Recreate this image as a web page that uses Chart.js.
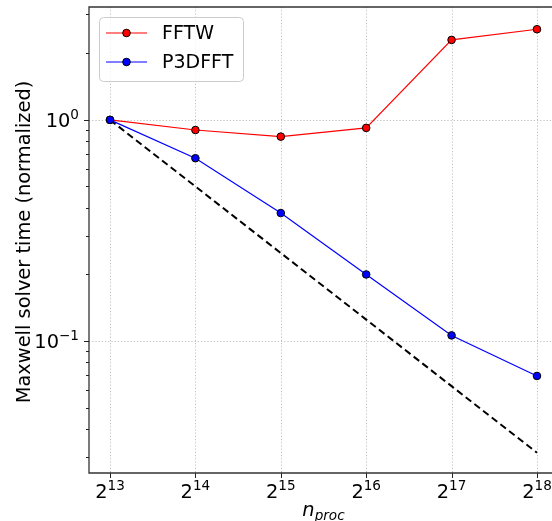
<html>
<body style="margin:0;background:#fff">
<canvas id="myChart" width="552" height="521"></canvas>
<script src="https://cdn.jsdelivr.net/npm/chart.js@4/dist/chart.umd.min.js"></script>
<script>
// n_proc = 2^exponent
const exponents = [13, 14, 15, 16, 17, 18];
const fftw = [1.0, 0.90, 0.84, 0.92, 2.30, 2.57];
const p3dfft = [1.0, 0.671, 0.379, 0.200, 0.106, 0.0695];
const ideal = [1.0, 0.5, 0.25, 0.125, 0.0625, 0.03125];

const yMajor = [1, 0.1];
const yMajorLabels = [["10", "0"], ["10", "\u22121"]];
const yMinor = [0.03, 0.04, 0.05, 0.06, 0.07, 0.08, 0.09, 0.2, 0.3, 0.4, 0.5, 0.6, 0.7, 0.8, 0.9, 2, 3];

const FONT = '"DejaVu Sans"';
const FS = 19.4;
const pts = arr => exponents.map((e, i) => ({x: e, y: arr[i]}));

function supText(ctx, base, sup, x, y, align, size) {
    ctx.textAlign = 'left';
    ctx.textBaseline = 'alphabetic';
    ctx.font = size + 'px ' + FONT;
    const wb = ctx.measureText(base).width;
    ctx.font = (size * 0.7) + 'px ' + FONT;
    const ws = ctx.measureText(sup).width;
    const x0 = align === 'center' ? x - (wb + ws) / 2 : x - wb - ws;
    ctx.font = size + 'px ' + FONT;
    ctx.fillText(base, x0, y);
    ctx.font = (size * 0.7) + 'px ' + FONT;
    ctx.fillText(sup, x0 + wb, y - size * 0.4);
}

const axesPlugin = {
    id: 'axesPlugin',
    beforeDatasetsDraw(chart) {
        const {ctx, chartArea: a, scales: {x, y}} = chart;
        ctx.save();
        ctx.strokeStyle = '#b0b0b0';
        ctx.lineWidth = 0.8;
        ctx.setLineDash([1.2, 2]);
        exponents.forEach(e => {
            const px = Math.round(x.getPixelForValue(e)) + 0.5;
            ctx.beginPath(); ctx.moveTo(px, a.top); ctx.lineTo(px, a.bottom); ctx.stroke();
        });
        yMajor.forEach(v => {
            const py = Math.round(y.getPixelForValue(v)) + 0.5;
            ctx.beginPath(); ctx.moveTo(a.left, py); ctx.lineTo(a.right, py); ctx.stroke();
        });
        ctx.restore();
    },
    afterDatasetsDraw(chart) {
        const {ctx, chartArea: a, scales: {x, y}} = chart;
        ctx.save();
        ctx.setLineDash([]);
        ctx.strokeStyle = '#333';
        ctx.lineWidth = 1.3;
        // spines (right one falls outside the picture)
        ctx.beginPath();
        ctx.moveTo(a.right, a.top); ctx.lineTo(a.left, a.top);
        ctx.lineTo(a.left, a.bottom); ctx.lineTo(a.right, a.bottom);
        ctx.stroke();
        // ticks
        ctx.lineWidth = 1;
        ctx.strokeStyle = '#222';
        exponents.forEach(e => {
            const px = Math.round(x.getPixelForValue(e)) + 0.5;
            ctx.beginPath(); ctx.moveTo(px, a.bottom); ctx.lineTo(px, a.bottom + 5); ctx.stroke();
        });
        yMajor.forEach(v => {
            const py = Math.round(y.getPixelForValue(v)) + 0.5;
            ctx.beginPath(); ctx.moveTo(a.left, py); ctx.lineTo(a.left - 5, py); ctx.stroke();
        });
        yMinor.forEach(v => {
            const py = Math.round(y.getPixelForValue(v)) + 0.5;
            ctx.beginPath(); ctx.moveTo(a.left, py); ctx.lineTo(a.left - 3, py); ctx.stroke();
        });
        // tick labels
        ctx.fillStyle = '#000';
        exponents.forEach(e => {
            supText(ctx, '2', String(e), x.getPixelForValue(e), a.bottom + 25, 'center', FS);
        });
        yMajor.forEach((v, i) => {
            supText(ctx, yMajorLabels[i][0], yMajorLabels[i][1], a.left - 10, y.getPixelForValue(v) + 7, 'right', FS);
        });
        // axis titles
        ctx.save();
        ctx.translate(30, (a.top + a.bottom) / 2 + 2);
        ctx.rotate(-Math.PI / 2);
        ctx.font = FS + 'px ' + FONT;
        ctx.textAlign = 'center';
        ctx.textBaseline = 'alphabetic';
        ctx.fillText('Maxwell solver time (normalized)', 0, 0);
        ctx.restore();

        ctx.font = 'italic ' + FS + 'px ' + FONT;
        const wn = ctx.measureText('n').width;
        ctx.font = 'italic ' + (FS * 0.7) + 'px ' + FONT;
        const wp = ctx.measureText('proc').width;
        const cx = 323.5 - (wn + wp) / 2;
        ctx.textAlign = 'left';
        ctx.font = 'italic ' + FS + 'px ' + FONT;
        ctx.fillText('n', cx, 516);
        ctx.font = 'italic ' + (FS * 0.7) + 'px ' + FONT;
        ctx.fillText('proc', cx + wn, 520);

        // legend
        const lx = 99, ly = 17, lw = 144, lh = 64;
        ctx.beginPath();
        ctx.roundRect(lx + 0.5, ly + 0.5, lw, lh, 4);
        ctx.fillStyle = 'rgba(255,255,255,0.8)';
        ctx.fill();
        ctx.strokeStyle = '#cccccc';
        ctx.lineWidth = 1;
        ctx.stroke();
        const items = [['FFTW', 'red', 33], ['P3DFFT', 'blue', 62]];
        items.forEach(([label, color, yy]) => {
            ctx.strokeStyle = color;
            ctx.lineWidth = 1.2;
            ctx.beginPath(); ctx.moveTo(106, yy); ctx.lineTo(147, yy); ctx.stroke();
            ctx.beginPath(); ctx.arc(126.5, yy, 3.8, 0, Math.PI * 2);
            ctx.fillStyle = color; ctx.fill();
            ctx.strokeStyle = '#000'; ctx.lineWidth = 1; ctx.stroke();
            ctx.fillStyle = '#000';
            ctx.font = '19px ' + FONT;
            ctx.textAlign = 'left';
            ctx.textBaseline = 'middle';
            ctx.fillText(label, 162, yy + 1);
        });
        ctx.restore();
    }
};

new Chart('myChart', {
    type: 'line',
    data: {
        datasets: [
            {label: 'P3DFFT', data: pts(p3dfft), borderColor: 'blue', backgroundColor: 'blue',
             borderWidth: 1.2, pointRadius: 3.8, pointBorderColor: '#000', pointBorderWidth: 1, tension: 0},
            {label: 'FFTW', data: pts(fftw), borderColor: 'red', backgroundColor: 'red',
             borderWidth: 1.2, pointRadius: 3.8, pointBorderColor: '#000', pointBorderWidth: 1, tension: 0},
            {label: 'ideal', data: pts(ideal), borderColor: '#000', borderWidth: 2,
             borderDash: [7, 4], pointRadius: 0, tension: 0}
        ]
    },
    options: {
        responsive: false,
        animation: false,
        layout: {autoPadding: false, padding: {left: 89, top: 7, right: 0, bottom: 48}},
        plugins: {legend: {display: false}, tooltip: {enabled: false}},
        scales: {
            x: {type: 'linear', display: false, min: 12.754, max: 18.176},
            y: {type: 'logarithmic', display: false, min: 0.0253, max: 3.24}
        }
    },
    plugins: [axesPlugin]
});
</script>
</body>
</html>
